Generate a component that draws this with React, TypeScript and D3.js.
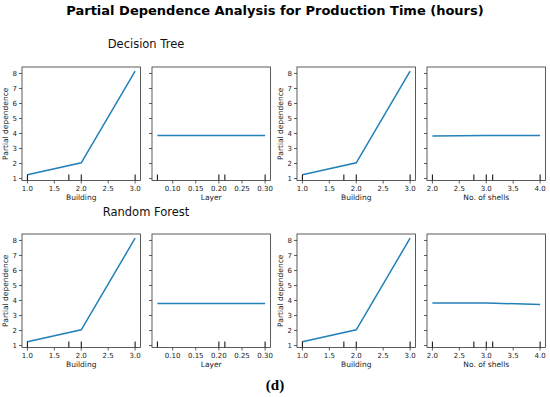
import React from 'react';
import * as d3 from 'd3';

// grid values & partial dependence
const buildingX = [1.0, 2.0, 3.0];
const dtBuilding = [1.25, 2.05, 8.15];
const rfBuilding = [1.25, 2.05, 8.15];

const layerX = [0.067, 0.2, 0.213, 0.3];
const dtLayer = [3.86, 3.86, 3.86, 3.86];
const rfLayer = [3.8, 3.8, 3.8, 3.8];

const shellsX = [2.0, 3.0, 4.0];
const dtShells = [3.84, 3.86, 3.86];
const rfShells = [3.83, 3.84, 3.73];

// decile rug marks
const buildingDeciles = [1.0, 1.77, 2.0, 3.0];
const layerDeciles = [0.067, 0.2, 0.213, 0.3];
const shellsDeciles = [2.0, 2.77, 3.0, 3.12, 4.0];

const buildingTicks = [1.0, 1.5, 2.0, 2.5, 3.0];
const layerTicks = [0.1, 0.15, 0.2, 0.25, 0.3];
const shellsTicks = [2.0, 2.5, 3.0, 3.5, 4.0];
const yTicks = [1, 2, 3, 4, 5, 6, 7, 8];

const W = 550;
const H = 397;
const panelW = 118.5;
const panelH = 113.5;
const colX = [22, 152, 297, 427];
const rowY = [67, 234];
const lineColor = '#2380b8';
const axisColor = '#333';

type PanelDef = {
  xs: number[];
  ys: number[];
  deciles: number[];
  ticks: number[];
  fmt: (v: number) => string;
  label: string;
  showY: boolean;
};

const fmt1 = d3.format('.1f');
const fmt2 = d3.format('.2f');

const rows: { title: string; panels: PanelDef[] }[] = [
  {
    title: 'Decision Tree',
    panels: [
      { xs: buildingX, ys: dtBuilding, deciles: buildingDeciles, ticks: buildingTicks, fmt: fmt1, label: 'Building', showY: true },
      { xs: layerX, ys: dtLayer, deciles: layerDeciles, ticks: layerTicks, fmt: fmt2, label: 'Layer', showY: false },
      { xs: buildingX, ys: dtBuilding, deciles: buildingDeciles, ticks: buildingTicks, fmt: fmt1, label: 'Building', showY: true },
      { xs: shellsX, ys: dtShells, deciles: shellsDeciles, ticks: shellsTicks, fmt: fmt1, label: 'No. of shells', showY: false },
    ],
  },
  {
    title: 'Random Forest',
    panels: [
      { xs: buildingX, ys: rfBuilding, deciles: buildingDeciles, ticks: buildingTicks, fmt: fmt1, label: 'Building', showY: true },
      { xs: layerX, ys: rfLayer, deciles: layerDeciles, ticks: layerTicks, fmt: fmt2, label: 'Layer', showY: false },
      { xs: buildingX, ys: rfBuilding, deciles: buildingDeciles, ticks: buildingTicks, fmt: fmt1, label: 'Building', showY: true },
      { xs: shellsX, ys: rfShells, deciles: shellsDeciles, ticks: shellsTicks, fmt: fmt1, label: 'No. of shells', showY: false },
    ],
  },
];

const Panel = ({ p, x0, y0 }: { p: PanelDef; x0: number; y0: number }) => {
  // matplotlib-style 5% margins around the data range
  const [lo, hi] = d3.extent(p.xs) as [number, number];
  const pad = (hi - lo) * 0.05;
  const x = d3.scaleLinear().domain([lo - pad, hi + pad]).range([0, panelW]);
  const y = d3.scaleLinear().domain([0.87, 8.43]).range([panelH, 0]);
  const line = d3.line<number>().x((d, i) => x(p.xs[i])).y(d => y(d));

  return (
    <g transform={`translate(${x0},${y0})`} fontFamily="DejaVu Sans, sans-serif">
      <path d={line(p.ys) || ''} fill="none" stroke={lineColor} strokeWidth={1.5} />
      {p.deciles.map((d, i) => (
        <line key={i} x1={x(d)} x2={x(d)} y1={panelH} y2={panelH - 6} stroke="#000" strokeWidth={1} />
      ))}
      <rect x={0} y={0} width={panelW} height={panelH} fill="none" stroke={axisColor} strokeWidth={0.8} />
      {yTicks.map(t => (
        <g key={t} transform={`translate(0,${y(t)})`}>
          <line x1={-3} x2={0} stroke={axisColor} strokeWidth={0.8} />
          {p.showY && (
            <text x={-5} dy="0.35em" textAnchor="end" fontSize={7} fill="#222">{t}</text>
          )}
        </g>
      ))}
      {p.ticks.map(t => (
        <g key={t} transform={`translate(${x(t)},${panelH})`}>
          <line y1={0} y2={3} stroke={axisColor} strokeWidth={0.8} />
          <text y={10} textAnchor="middle" fontSize={7} fill="#222">{p.fmt(t)}</text>
        </g>
      ))}
      <text x={panelW / 2} y={panelH + 19.5} textAnchor="middle" fontSize={7.5} fill="#222">{p.label}</text>
      {p.showY && (
        <text transform={`translate(-14,${panelH / 2}) rotate(-90)`} textAnchor="middle" fontSize={7.5} fill="#222">
          Partial dependence
        </text>
      )}
    </g>
  );
};

export default function App() {
  const titleY = [44, 212];
  return (
    <svg width={W} height={H} style={{ position: 'absolute', left: 0, top: 0, background: '#fff' }}>
      <rect width={W} height={H} fill="#fff" />
      <text x={275} y={15} textAnchor="middle" fontFamily="DejaVu Sans, sans-serif" fontWeight="bold" fontSize={13} fill="#000">
        Partial Dependence Analysis for Production Time (hours)
      </text>
      {rows.map((r, ri) => (
        <g key={r.title}>
          <text x={146} y={titleY[ri]} dy="0.35em" textAnchor="middle" fontFamily="DejaVu Sans, sans-serif" fontSize={11.5} fill="#111">
            {r.title}
          </text>
          {r.panels.map((p, pi) => (
            <Panel key={pi} p={p} x0={colX[pi]} y0={rowY[ri]} />
          ))}
        </g>
      ))}
      <text x={275} y={390} textAnchor="middle" fontFamily="Liberation Serif, serif" fontWeight="bold" fontSize={15} fill="#000">
        (d)
      </text>
    </svg>
  );
}
